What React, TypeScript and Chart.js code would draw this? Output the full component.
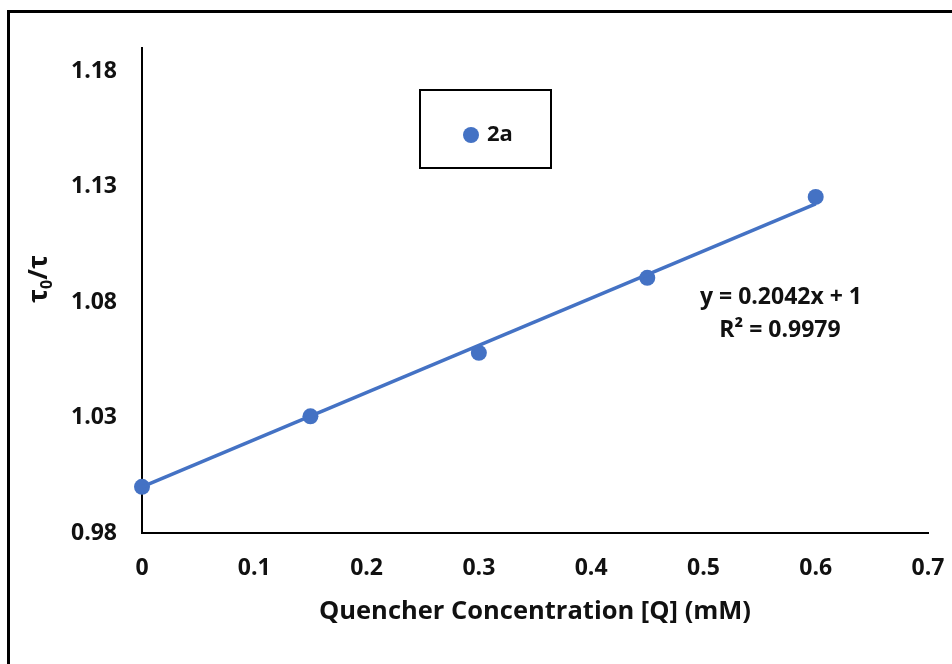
import React, { useEffect, useRef } from "react";
import { Chart, registerables } from "chart.js";

Chart.register(...registerables);

const xValues = [0, 0.15, 0.3, 0.45, 0.6];
const yValues = [1.0, 1.0305, 1.058, 1.0905, 1.1255];
const xTicks = [0, 0.1, 0.2, 0.3, 0.4, 0.5, 0.6, 0.7];
const yTicks = [0.98, 1.03, 1.08, 1.13, 1.18];
const seriesName = "2a";
const slope = 0.2042;
const intercept = 1;
const rSquared = 0.9979;
const trendRange = [0, 0.6];
const xTitle = "Quencher Concentration [Q] (mM)";

const BLUE = "#4472C4";
const TEXT = "#111111";
const FONT = "'Open Sans', 'Liberation Sans', sans-serif";

const overlayPlugin = {
  id: "overlay",
  afterDraw(chart: any) {
    const ctx = chart.ctx as CanvasRenderingContext2D;
    const area = chart.chartArea;
    ctx.save();
    // outer frame
    ctx.strokeStyle = "#000";
    ctx.lineWidth = 3;
    ctx.beginPath();
    ctx.moveTo(8.5, 664);
    ctx.lineTo(8.5, 11.5);
    ctx.lineTo(952, 11.5);
    ctx.stroke();

    // x title
    ctx.fillStyle = TEXT;
    ctx.font = `bold 25.5px ${FONT}`;
    ctx.textAlign = "center";
    ctx.textBaseline = "middle";
    ctx.fillText(xTitle, (area.left + area.right) / 2, 612);

    // y title: tau0/tau
    ctx.save();
    ctx.translate(40, 279);
    ctx.rotate(-Math.PI / 2);
    const big = `bold 26px ${FONT}`;
    const small = `bold 16px ${FONT}`;
    ctx.font = big;
    const w1 = ctx.measureText("τ").width;
    const w3 = ctx.measureText("/τ").width;
    ctx.font = small;
    const w2 = ctx.measureText("0").width;
    let x0 = -(w1 + w2 + w3) / 2;
    ctx.textAlign = "left";
    ctx.textBaseline = "alphabetic";
    ctx.font = big;
    ctx.fillText("τ", x0, 7);
    x0 += w1;
    ctx.font = small;
    ctx.fillText("0", x0, 12);
    x0 += w2;
    ctx.font = big;
    ctx.fillText("/τ", x0, 7);
    ctx.restore();

    // legend
    ctx.lineWidth = 2;
    ctx.strokeStyle = "#000";
    ctx.strokeRect(420, 90, 131, 78);
    ctx.fillStyle = BLUE;
    ctx.beginPath();
    ctx.arc(471, 135, 8, 0, Math.PI * 2);
    ctx.fill();
    ctx.fillStyle = TEXT;
    ctx.font = `bold 22px ${FONT}`;
    ctx.textAlign = "left";
    ctx.textBaseline = "middle";
    ctx.fillText(seriesName, 487, 135);

    // equation
    ctx.font = `bold 23px ${FONT}`;
    ctx.textAlign = "center";
    ctx.fillText(`y = ${slope}x + ${intercept}`, 781, 297);
    ctx.fillText(`R² = ${rSquared}`, 780, 330);
    ctx.restore();
  },
};

export default function App() {
  const ref = useRef<HTMLCanvasElement | null>(null);
  useEffect(() => {
    if (!ref.current) return;
    const points = xValues.map((x, i) => ({ x, y: yValues[i] }));
    const trend = trendRange.map((x) => ({ x, y: slope * x + intercept }));
    const chart = new Chart(ref.current, {
      type: "scatter",
      data: {
        datasets: [
          {
            label: seriesName,
            data: points,
            pointRadius: 8,
            pointHoverRadius: 8,
            pointBackgroundColor: BLUE,
            pointBorderWidth: 0,
            borderColor: BLUE,
            showLine: false,
            clip: false,
            order: 2,
          } as any,
          {
            label: "trend",
            type: "line",
            data: trend,
            borderColor: BLUE,
            borderWidth: 3.5,
            pointRadius: 0,
            showLine: true,
            fill: false,
            clip: false,
            order: 1,
          } as any,
        ],
      },
      options: {
        animation: false,
        responsive: false,
        devicePixelRatio: 1,
        layout: { padding: { left: 0, top: 48, right: 24, bottom: 0 } },
        plugins: { legend: { display: false }, tooltip: { enabled: false } },
        scales: {
          x: {
            type: "linear",
            min: 0,
            max: 0.7,
            afterBuildTicks: (s: any) => {
              s.ticks = xTicks.map((v) => ({ value: v }));
            },
            afterFit: (s: any) => {
              s.height = 131;
              s.paddingLeft = 0;
              s.paddingRight = 0;
            },
            grid: { display: false, drawTicks: false },
            border: { display: true, color: "#000", width: 2 },
            ticks: {
              padding: 22,
              color: TEXT,
              font: { family: FONT, size: 23, weight: "bold" },
              maxRotation: 0,
              autoSkip: false,
              callback: (v: any) => String(Math.round(Number(v) * 10) / 10),
            },
          },
          y: {
            type: "linear",
            min: 0.98,
            max: 1.19,
            afterBuildTicks: (s: any) => {
              s.ticks = yTicks.map((v) => ({ value: v }));
            },
            afterFit: (s: any) => {
              s.width = 142;
              s.paddingTop = 0;
              s.paddingBottom = 0;
            },
            grid: { display: false, drawTicks: false },
            border: { display: true, color: "#000", width: 2 },
            ticks: {
              padding: 25,
              color: TEXT,
              autoSkip: false,
              font: { family: FONT, size: 23, weight: "bold" },
              callback: (v: any) => Number(v).toFixed(2),
            },
          },
        },
      },
      plugins: [overlayPlugin],
    } as any);
    return () => chart.destroy();
  }, []);
  return (
    <div style={{ position: "fixed", left: 0, top: 0, width: 952, height: 664, background: "#fff" }}>
      <canvas ref={ref} width={952} height={664} style={{ display: "block" }} />
    </div>
  );
}
